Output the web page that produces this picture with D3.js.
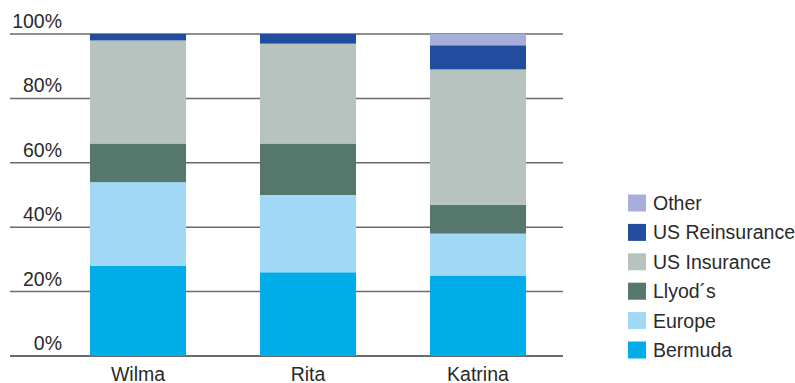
<!DOCTYPE html>
<html><head><meta charset="utf-8">
<script src="https://cdn.jsdelivr.net/npm/d3@7"></script>
<style>
html,body{margin:0;padding:0;background:#fff;}
svg{display:block;}
text{font-family:"Liberation Sans",Arial,sans-serif;fill:#2a2a2a;}
</style></head>
<body><svg id="c" width="795" height="383"></svg>
<script>
const categories = ["Wilma", "Rita", "Katrina"];
const seriesNames = ["Bermuda", "Europe", "Llyod\u00b4s", "US Insurance", "US Reinsurance", "Other"];
const bermuda = [28, 26, 25];
const europe = [26, 24, 13];
const lloyds = [12, 16, 9];
const usInsurance = [32, 31, 42];
const usReinsurance = [2, 3, 7.5];
const other = [0, 0, 3.5];
const yTicks = [0, 20, 40, 60, 80, 100];
const colors = ["#00ade8", "#a0d8f5", "#55776c", "#b7c3bf", "#224c9d", "#a8aeda"];

const seriesValues = [bermuda, europe, lloyds, usInsurance, usReinsurance, other];
const table = categories.map((c, i) => {
  const row = {cat: c};
  seriesNames.forEach((s, j) => row[s] = seriesValues[j][i]);
  return row;
});

const svg = d3.select("#c");
const x = d3.scaleBand().domain(categories).range([53, 563]).paddingInner(0.435).paddingOuter(0.2175);
const y = d3.scaleLinear().domain([0, 100]).range([356, 34]);
const color = d3.scaleOrdinal().domain(seriesNames).range(colors);

// gridlines
svg.append("g").selectAll("line").data(yTicks).join("line")
  .attr("x1", 10).attr("x2", 563)
  .attr("y1", d => y(d)).attr("y2", d => y(d))
  .attr("stroke", "#6a6a6a").attr("stroke-width", d => d === 0 ? 2 : 1.5);

svg.append("g").selectAll("text").data(yTicks).join("text")
  .attr("x", 62).attr("y", d => y(d) - 6)
  .attr("text-anchor", "end").attr("font-size", 19.5)
  .text(d => d + "%");

const stack = d3.stack().keys(seriesNames)(table);
svg.append("g").selectAll("g").data(stack).join("g")
  .attr("fill", d => color(d.key))
  .selectAll("rect").data(d => d).join("rect")
  .attr("x", d => x(d.data.cat))
  .attr("width", x.bandwidth())
  .attr("y", d => y(d[1]))
  .attr("height", d => y(d[0]) - y(d[1]));

svg.append("g").selectAll("text").data(categories).join("text")
  .attr("x", d => x(d) + x.bandwidth() / 2).attr("y", 381)
  .attr("text-anchor", "middle").attr("font-size", 19.5)
  .text(d => d);

// legend
const legendOrder = seriesNames.slice().reverse();
const lg = svg.append("g").selectAll("g").data(legendOrder).join("g")
  .attr("transform", (d, i) => `translate(628, ${203 + i * 29.4})`);
lg.append("rect").attr("x", 0).attr("y", -8.5).attr("width", 18).attr("height", 17)
  .attr("fill", d => color(d));
lg.append("text").attr("x", 25).attr("y", 7).attr("font-size", 19.5).text(d => d);
</script></body></html>
